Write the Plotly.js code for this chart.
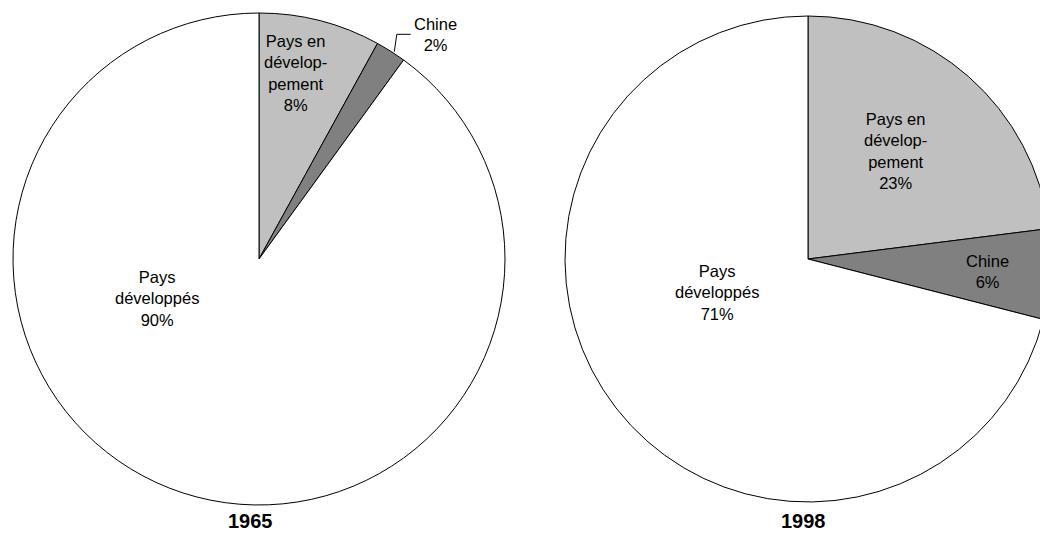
<!DOCTYPE html>
<html>
<head>
<meta charset="utf-8">
<script src="https://cdn.plot.ly/plotly-3.0.1.min.js"></script>
<style>
  html, body { margin: 0; padding: 0; background: #fff; overflow: hidden; width: 1040px; height: 533px; }
  #wrap { width: 1040px; height: 533px; overflow: hidden; }
  #chart { width: 1060px; height: 533px; }
</style>
</head>
<body>
<div id="wrap"><div id="chart"></div></div>
<script>
// ---- data ----
const categories = ['Pays en développement', 'Chine', 'Pays développés'];
const labelLines = ['Pays en<br>dévelop-<br>pement', 'Chine', 'Pays<br>développés'];
const years = ['1965', '1998'];
const values1965 = [8, 2, 90];
const values1998 = [23, 6, 71];
const sliceColors = ['#c0c0c0', '#808080', '#ffffff'];

// ---- layout helpers ----
const W = 1060, H = 533;
const px = x => x / W;
const py = y => 1 - y / H;
const FONT = '"Liberation Sans", Arial, Helvetica, sans-serif';

function pieTrace(values, xr, yr) {
  return {
    type: 'pie',
    labels: categories,
    values: values,
    sort: false,
    direction: 'clockwise',
    rotation: 0,
    textinfo: 'none',
    hoverinfo: 'label+percent',
    showlegend: false,
    marker: { colors: sliceColors, line: { color: '#000000', width: 1 } },
    domain: { x: [px(xr[0]), px(xr[1])], y: [py(yr[1]), py(yr[0])] }
  };
}

const traces = [
  pieTrace(values1965, [13, 505], [13, 505]),
  pieTrace(values1998, [565, 1051], [16, 502])
];

// label positions (pixel centres)
const pos1965 = [[295, 73], [435, 35], [157, 298]];
const pos1998 = [[895, 151], [987, 271], [717, 292]];

const annotations = [];
function addLabels(values, pos) {
  values.forEach((v, i) => {
    annotations.push({
      xref: 'paper', yref: 'paper',
      x: px(pos[i][0]), y: py(pos[i][1]),
      xanchor: 'center', yanchor: 'middle',
      text: labelLines[i] + '<br>' + v + '%',
      showarrow: false,
      align: 'center',
      font: { family: FONT, size: 16.5, color: '#000000' }
    });
  });
}
addLabels(values1965, pos1965);
addLabels(values1998, pos1998);

const titlePos = [[250, 521], [803, 521]];
years.forEach((yr, i) => {
  annotations.push({
    xref: 'paper', yref: 'paper',
    x: px(titlePos[i][0]), y: py(titlePos[i][1]),
    xanchor: 'center', yanchor: 'middle',
    text: '<b>' + yr + '</b>',
    showarrow: false,
    font: { family: FONT, size: 20, color: '#000000' }
  });
});

const layout = {
  width: W, height: H,
  margin: { l: 0, r: 0, t: 0, b: 0 },
  paper_bgcolor: '#ffffff',
  font: { family: FONT, color: '#000000' },
  annotations: annotations,
  shapes: [{
    type: 'path',
    xref: 'paper', yref: 'paper',
    path: 'M ' + px(394.3) + ',' + py(51.7) + ' L ' + px(396.8) + ',' + py(34.3) + ' L ' + px(410.7) + ',' + py(34.3),
    line: { color: '#000000', width: 1 }
  }]
};

Plotly.newPlot('chart', traces, layout, { displayModeBar: false, staticPlot: true });
</script>
</body>
</html>
